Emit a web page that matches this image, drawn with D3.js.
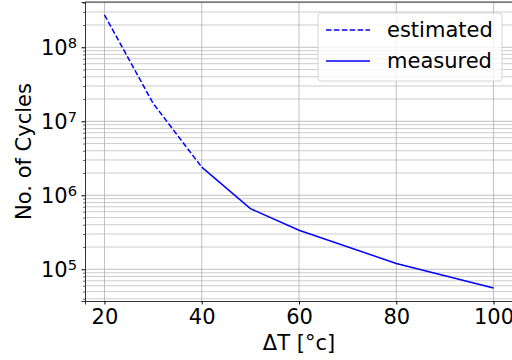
<!DOCTYPE html>
<html>
<head>
<meta charset="utf-8">
<script src="https://cdn.jsdelivr.net/npm/d3@7"></script>
<style>
body { margin: 0; background: #fff; }
svg { font-family: "DejaVu Sans", sans-serif; }
</style>
</head>
<body>
<div id="chart"></div>
<script>
// data
const estimatedT = [20, 30, 40];
const estimatedN = [2.74e8, 1.75e7, 2.4e6];
const measuredT = [40, 50, 60, 80, 100];
const measuredN = [2.4e6, 6.6e5, 3.37e5, 1.2e5, 5.6e4];
const xTicks = [20, 40, 60, 80, 100];
const yDecades = [5, 6, 7, 8];
const seriesNames = ["estimated", "measured"];

const W = 512, H = 360;
const margin = { top: 2, right: -1, bottom: 59, left: 85 };
const width = W - margin.left - margin.right;
const height = H - margin.top - margin.bottom;
const fs = 21;

const svg = d3.select("#chart").append("svg")
    .attr("width", W)
    .attr("height", H);

const g = svg.append("g")
    .attr("transform", "translate(" + margin.left + "," + margin.top + ")");

const x = d3.scaleLinear().domain([16, 104]).range([0, width]);
const y = d3.scaleLog().domain([3.73e4, 4.09e8]).range([height, 0]);

// minor values for log axis
let minors = [];
for (let e = 4; e <= 8; e++) {
    for (let m = 2; m <= 9; m++) {
        let v = m * Math.pow(10, e);
        if (v >= y.domain()[0] && v <= y.domain()[1]) minors.push(v);
    }
}
const majors = yDecades.map(e => Math.pow(10, e));

// grid
const gridColor = "#b0b0b0";
g.selectAll(".ygrid-minor").data(minors).enter().append("line")
    .attr("x1", 0).attr("x2", width)
    .attr("y1", d => y(d)).attr("y2", d => y(d))
    .attr("stroke", gridColor).attr("stroke-width", 0.8).attr("stroke-opacity", 0.8);
g.selectAll(".ygrid-major").data(majors).enter().append("line")
    .attr("x1", 0).attr("x2", width)
    .attr("y1", d => y(d)).attr("y2", d => y(d))
    .attr("stroke", gridColor).attr("stroke-width", 0.8);
g.selectAll(".xgrid").data(xTicks).enter().append("line")
    .attr("x1", d => x(d)).attr("x2", d => x(d))
    .attr("y1", 0).attr("y2", height)
    .attr("stroke", gridColor).attr("stroke-width", 0.8);

// lines
const line = d3.line().x(d => x(d[0])).y(d => y(d[1]));
g.append("path")
    .datum(d3.zip(estimatedT, estimatedN))
    .attr("d", line)
    .attr("fill", "none").attr("stroke", "#0000ff").attr("stroke-width", 1.5)
    .attr("stroke-dasharray", "5.5,2.4");
g.append("path")
    .datum(d3.zip(measuredT, measuredN))
    .attr("d", line)
    .attr("fill", "none").attr("stroke", "#0000ff").attr("stroke-width", 1.5);

// axes
const xAxis = d3.axisBottom(x).tickValues(xTicks).tickSize(3.5).tickPadding(3.5);
const gx = g.append("g").attr("transform", "translate(0," + height + ")").call(xAxis);
gx.attr("font-size", fs).attr("font-family", "DejaVu Sans");
gx.select(".domain").attr("stroke", "#000").attr("stroke-width", 0.8);
gx.selectAll("text").attr("fill", "#000").attr("dy", "0.76em");

const yAxis = d3.axisLeft(y).tickValues(majors).tickSize(3.5).tickPadding(3.5).tickFormat("");
const gy = g.append("g").call(yAxis);
gy.attr("font-size", fs).attr("font-family", "DejaVu Sans");
gy.select(".domain").attr("stroke", "#000").attr("stroke-width", 0.8);
gy.selectAll(".tick").each(function (d) {
    const t = d3.select(this).append("text")
        .attr("x", -8).attr("dy", "0.35em")
        .attr("text-anchor", "end")
        .attr("fill", "#000");
    t.append("tspan").text("10");
    t.append("tspan").attr("dy", "-0.5em").attr("font-size", 14.7).text(Math.round(Math.log10(d)));
});
const yMinor = d3.axisLeft(y).tickValues(minors).tickSize(2).tickFormat("");
const gym = g.append("g").call(yMinor);
gym.select(".domain").remove();
gym.selectAll("line").attr("stroke-width", 0.6);

// top spine
g.append("line").attr("x1", 0).attr("x2", width).attr("y1", 0).attr("y2", 0)
    .attr("stroke", "#000").attr("stroke-width", 0.8);

// labels
svg.append("text")
    .attr("x", margin.left + x(60)).attr("y", 350)
    .attr("text-anchor", "middle").attr("font-size", fs)
    .text("\u0394T [\u00b0c]");
svg.append("text")
    .attr("transform", "translate(31," + (margin.top + height / 2) + ") rotate(-90)")
    .attr("text-anchor", "middle").attr("font-size", fs)
    .text("No. of Cycles");

// legend
const leg = svg.append("g").attr("transform", "translate(318,13)");
leg.append("rect")
    .attr("width", 184).attr("height", 68).attr("rx", 3)
    .attr("fill", "#fff").attr("fill-opacity", 0.8)
    .attr("stroke", "#cccccc").attr("stroke-width", 0.8);
seriesNames.forEach((name, i) => {
    const yy = 17 + i * 31;
    leg.append("line")
        .attr("x1", 8).attr("x2", 52).attr("y1", yy).attr("y2", yy)
        .attr("stroke", "#0000ff").attr("stroke-width", 1.5)
        .attr("stroke-dasharray", i === 0 ? "5.5,2.4" : null);
    leg.append("text")
        .attr("x", 69).attr("y", yy).attr("dy", "0.35em")
        .attr("font-size", fs).text(name);
});
</script>
</body>
</html>
